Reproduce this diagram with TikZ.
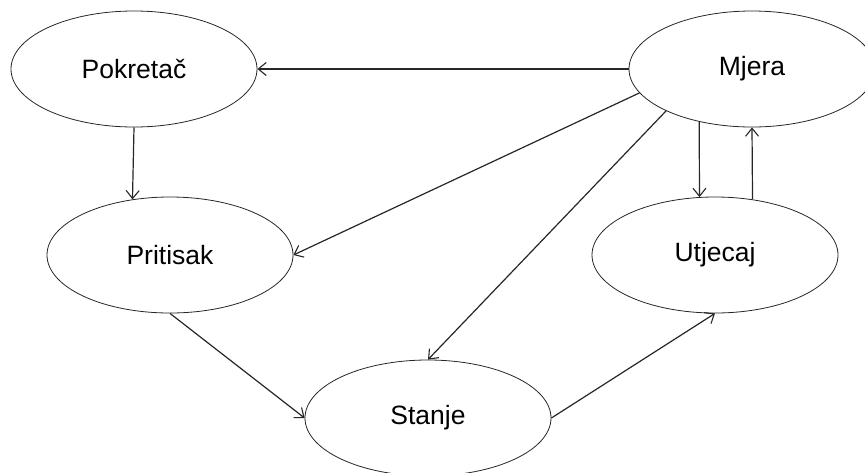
\documentclass[tikz,border=0pt]{standalone}
\usepackage{fontspec}
\setmainfont{Liberation Sans}
\usepackage{tikz}
\usetikzlibrary{positioning,shapes.geometric,arrows.meta}

\begin{document}
\begin{tikzpicture}[x=1pt,y=-1pt,link/.style={draw=black!85,line width=1.2pt,-{Straight Barb[length=8pt,width=13pt,line width=1.1pt]}}]
    \tikzstyle{every node}=[ellipse,draw=black!85,line width=0.8pt,minimum width=246pt,minimum height=116pt,inner sep=0pt,font=\fontsize{26.5}{31}\selectfont]
    \useasboundingbox (0,0) rectangle (865,472);
    \node (pokretac) at (134,69) {Pokretač};
    \node (mjera) at (752,69) {Mjera};
    \node (pritisak) at (170,255) {Pritisak};
    \node (utjecaj) at (715,255) {Utjecaj};
    \node (stanje) at (428,418) {Stanje};
    \draw[link] (mjera.west) -- (pokretac.east);
    \draw[link] (pokretac.south) -- (pritisak.124);
    \draw[link] (mjera.192) -- (pritisak.east);
    \draw[link] (mjera.206) -- (stanje.north);
    \draw[link] (mjera.225) -- (utjecaj.105);
    \draw[link] (utjecaj.56) -- (mjera.south);
    \draw[link] (pritisak.south) -- (stanje.west);
    \draw[link] (stanje.east) -- (utjecaj.south);
\end{tikzpicture}
\end{document}
